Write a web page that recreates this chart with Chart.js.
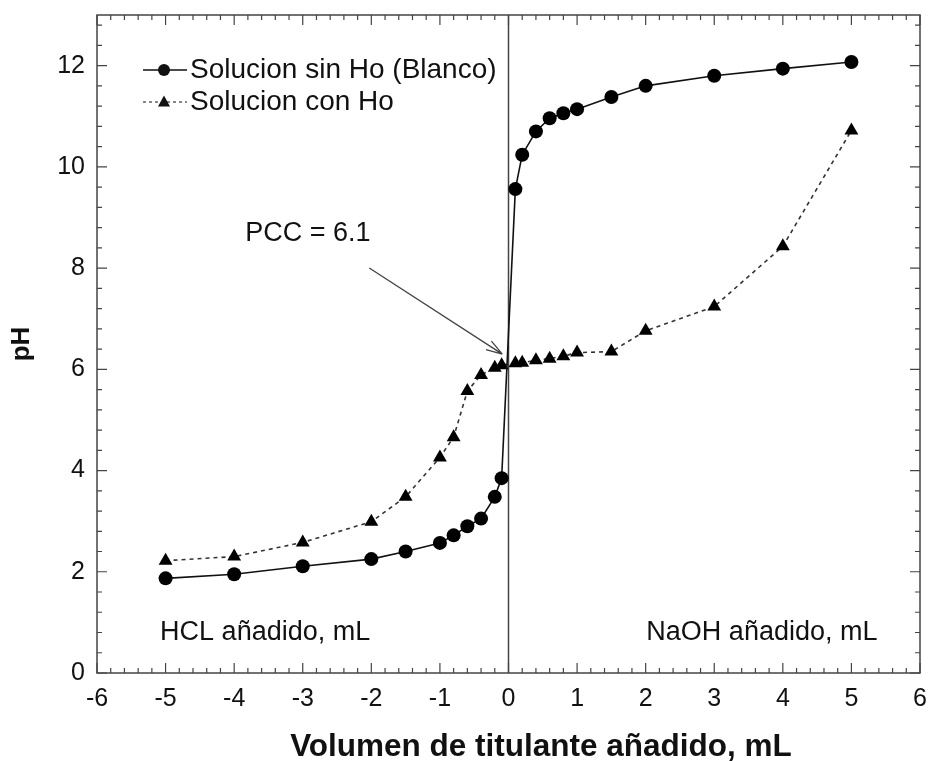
<!DOCTYPE html>
<html>
<head>
<meta charset="utf-8">
<script src="https://cdn.jsdelivr.net/npm/chart.js@4.4.1/dist/chart.umd.min.js"></script>
<style>
  html, body { margin: 0; padding: 0; background: #fff; }
</style>
</head>
<body>
<canvas id="chart" width="936" height="761"></canvas>
<script>
// volumen de titulante (mL): negativo = HCl, positivo = NaOH
const volBlanco = [-5, -4, -3, -2, -1.5, -1, -0.8, -0.6, -0.4, -0.2, -0.1, 0.1, 0.2, 0.4, 0.6, 0.8, 1, 1.5, 2, 3, 4, 5];
const phBlanco  = [1.87, 1.95, 2.11, 2.25, 2.40, 2.57, 2.72, 2.90, 3.05, 3.48, 3.85, 9.56, 10.24, 10.70, 10.96, 11.06, 11.14, 11.38, 11.60, 11.80, 11.94, 12.07];

const volConHo = [-5, -4, -3, -2, -1.5, -1, -0.8, -0.6, -0.4, -0.2, -0.1, 0.1, 0.2, 0.4, 0.6, 0.8, 1, 1.5, 2, 3, 4, 5];
const phConHo  = [2.22, 2.30, 2.58, 2.99, 3.48, 4.26, 4.66, 5.57, 5.89, 6.03, 6.08, 6.12, 6.13, 6.18, 6.21, 6.26, 6.33, 6.35, 6.76, 7.24, 8.43, 10.72];

const xTicks = [-6, -5, -4, -3, -2, -1, 0, 1, 2, 3, 4, 5, 6];
const yTicks = [0, 2, 4, 6, 8, 10, 12];

const serieNames = ['Solucion sin Ho (Blanco)', 'Solucion con Ho'];
const xTitle = 'Volumen de titulante añadido, mL';

const FONT = '"Liberation Sans", Arial, sans-serif';
const INK = '#111';
const AXIS = '#444';

function toPoints(xs, ys) {
  return xs.map((x, i) => ({ x: x, y: ys[i] }));
}

function noOverflow(s) {
  s.paddingTop = 0;
  s.paddingBottom = 0;
  s.paddingLeft = 0;
  s.paddingRight = 0;
}

// marcos, ticks hacia dentro, linea del cero, anotaciones y leyenda
const extras = {
  id: 'extras',
  beforeDatasetsDraw(chart) {
    const { ctx, chartArea: a, scales: { x, y } } = chart;
    ctx.save();
    ctx.strokeStyle = AXIS;
    ctx.lineWidth = 1.5;
    ctx.strokeRect(a.left, a.top, a.right - a.left, a.bottom - a.top);

    // linea vertical en cero
    const x0 = x.getPixelForValue(0);
    ctx.beginPath();
    ctx.moveTo(x0, a.bottom);
    ctx.lineTo(x0, a.top);
    ctx.stroke();

    ctx.lineWidth = 1.2;
    ctx.beginPath();
    // eje x: mayores cada 1, menores cada 0.2
    for (let i = -30; i <= 30; i++) {
      const px = x.getPixelForValue(i / 5);
      const len = i % 5 === 0 ? 10 : 5;
      ctx.moveTo(px, a.bottom); ctx.lineTo(px, a.bottom - len);
      ctx.moveTo(px, a.top); ctx.lineTo(px, a.top + len);
    }
    // eje y: mayores cada 2, menores cada 0.4
    for (let j = 0; j <= 32; j++) {
      const v = j * 0.4;
      if (v > 13.001) break;
      const py = y.getPixelForValue(v);
      const len = j % 5 === 0 ? 10 : 5;
      ctx.moveTo(a.left, py); ctx.lineTo(a.left + len, py);
      ctx.moveTo(a.right, py); ctx.lineTo(a.right - len, py);
    }
    ctx.stroke();
    ctx.restore();
  },
  afterDraw(chart) {
    const { ctx, chartArea: a, scales: { x, y } } = chart;
    ctx.save();
    ctx.fillStyle = INK;
    ctx.font = '27px ' + FONT;
    ctx.textBaseline = 'middle';

    // texto PCC y flecha
    ctx.textAlign = 'left';
    ctx.fillText('PCC = 6.1', x.getPixelForValue(-3.84), y.getPixelForValue(8.68));
    const ax0 = x.getPixelForValue(-2.03), ay0 = y.getPixelForValue(8.0);
    const ax1 = x.getPixelForValue(-0.09), ay1 = y.getPixelForValue(6.3);
    const ang = Math.atan2(ay1 - ay0, ax1 - ax0);
    ctx.strokeStyle = '#444';
    ctx.lineWidth = 1.3;
    ctx.beginPath();
    ctx.moveTo(ax0, ay0);
    ctx.lineTo(ax1, ay1);
    ctx.moveTo(ax1, ay1);
    ctx.lineTo(ax1 - 17 * Math.cos(ang - 0.3), ay1 - 17 * Math.sin(ang - 0.3));
    ctx.moveTo(ax1, ay1);
    ctx.lineTo(ax1 - 17 * Math.cos(ang + 0.3), ay1 - 17 * Math.sin(ang + 0.3));
    ctx.stroke();

    // etiquetas de zona
    ctx.fillText('HCL añadido, mL', x.getPixelForValue(-5.08), y.getPixelForValue(0.79));
    ctx.textAlign = 'right';
    ctx.fillText('NaOH añadido, mL', x.getPixelForValue(5.38), y.getPixelForValue(0.79));

    // titulo del eje x (desplazado a la derecha como en el original)
    ctx.textAlign = 'center';
    ctx.font = 'bold 31.5px ' + FONT;
    ctx.fillText(xTitle, 541, 747);

    // leyenda
    ctx.textAlign = 'left';
    const lx0 = 143, lx1 = 187, mx = 164;
    const rows = [70, 102];
    ctx.strokeStyle = INK;
    ctx.lineWidth = 1.5;
    ctx.beginPath();
    ctx.moveTo(lx0, rows[0]); ctx.lineTo(lx1, rows[0]);
    ctx.stroke();
    ctx.beginPath();
    ctx.arc(mx, rows[0], 6, 0, Math.PI * 2);
    ctx.fill();
    ctx.setLineDash([3, 3]);
    ctx.lineWidth = 1.2;
    ctx.beginPath();
    ctx.moveTo(lx0, rows[1]); ctx.lineTo(lx1, rows[1]);
    ctx.stroke();
    ctx.setLineDash([]);
    ctx.beginPath();
    ctx.moveTo(mx, rows[1] - 6.5);
    ctx.lineTo(mx + 6, rows[1] + 4.5);
    ctx.lineTo(mx - 6, rows[1] + 4.5);
    ctx.closePath();
    ctx.fill();
    ctx.font = '28px ' + FONT;
    ctx.fillText(serieNames[0], 190, rows[0]);
    ctx.fillText(serieNames[1], 190, rows[1]);
    ctx.restore();
  }
};

const ctx = document.getElementById('chart').getContext('2d');
const chart = new Chart(ctx, {
  type: 'scatter',
  data: {
    datasets: [
      {
        label: serieNames[0],
        data: toPoints(volBlanco, phBlanco),
        showLine: true,
        borderColor: INK,
        backgroundColor: '#000',
        borderWidth: 1.6,
        pointStyle: 'circle',
        pointRadius: 7,
        pointBorderWidth: 0,
        tension: 0
      },
      {
        label: serieNames[1],
        data: toPoints(volConHo, phConHo),
        showLine: true,
        borderColor: '#333',
        backgroundColor: '#000',
        borderWidth: 1.6,
        borderDash: [4, 4],
        pointStyle: 'triangle',
        pointRadius: 8,
        pointBorderWidth: 0,
        tension: 0
      }
    ]
  },
  plugins: [extras],
  options: {
    responsive: false,
    animation: false,
    layout: { padding: { top: 15, right: 16, bottom: 0, left: 0 } },
    plugins: {
      legend: { display: false },
      tooltip: { enabled: false }
    },
    scales: {
      x: {
        type: 'linear',
        min: -6,
        max: 6,
        afterBuildTicks: s => { s.ticks = xTicks.map(v => ({ value: v })); },
        afterFit: s => { s.height = 88; noOverflow(s); },
        grid: { display: false, drawTicks: false },
        border: { display: false },
        ticks: { color: INK, padding: 11, font: { family: FONT, size: 25 } }
      },
      y: {
        type: 'linear',
        min: 0,
        max: 13,
        afterBuildTicks: s => { s.ticks = yTicks.map(v => ({ value: v })); },
        afterFit: s => { s.width = 97; noOverflow(s); },
        grid: { display: false, drawTicks: false },
        border: { display: false },
        ticks: { color: INK, padding: 12, font: { family: FONT, size: 25 } },
        title: {
          display: true,
          text: 'pH',
          color: INK,
          font: { family: FONT, size: 26, weight: 'bold', lineHeight: 1.0 },
          padding: { top: 9, bottom: 0 }
        }
      }
    }
  }
});
</script>
</body>
</html>
